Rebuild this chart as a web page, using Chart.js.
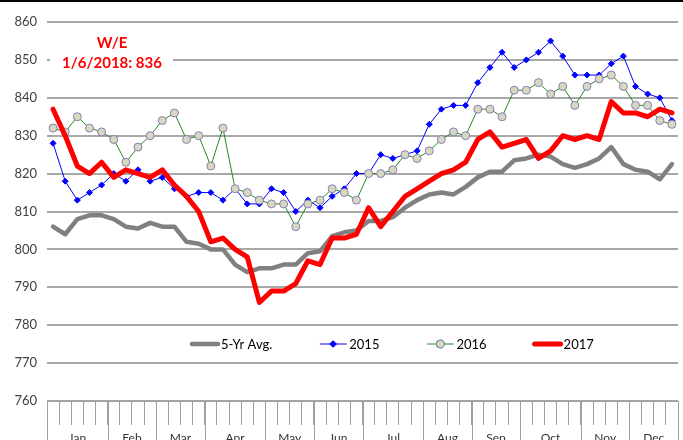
<!DOCTYPE html>
<html>
<head>
<meta charset="utf-8">
<script src="https://cdn.jsdelivr.net/npm/chart.js@4.4.1/dist/chart.umd.min.js"></script>
<style>
  html, body { margin: 0; padding: 0; background: #fff; }
  #wrap { position: relative; width: 683px; height: 440px; overflow: hidden; }
  #topbar { position: absolute; left: 0; top: 0; width: 683px; height: 2px; background: #000; }
</style>
</head>
<body>
<div id="wrap">
  <canvas id="chart" width="683" height="440"></canvas>
  <div id="topbar"></div>
</div>
<script>
// month labels and how many weekly points fall in each
const months = ['Jan', 'Feb', 'Mar', 'Apr', 'May', 'Jun', 'Jul', 'Aug', 'Sep', 'Oct', 'Nov', 'Dec'];
const weeksPerMonth = [5, 4, 4, 5, 4, 4, 5, 4, 4, 5, 4, 4];

// weekly series
const avg5yr = [806, 804, 808, 809, 809, 808, 806, 805.5, 807, 806,
                806, 802, 801.5, 800, 800, 796, 794, 795, 795, 796,
                796, 799, 799.5, 803.5, 804.5, 805, 807.5, 807.5, 808.5, 811,
                813, 814.5, 815, 814.5, 816.5, 819, 820.5, 820.5, 823.5, 824,
                825, 824.5, 822.5, 821.5, 822.5, 824, 827, 822.5, 821, 820.5,
                818.5, 822.5];
const y2015 = [828, 818, 813, 815, 817, 820, 818, 821, 818, 819,
               816, 814, 815, 815, 813, 816, 812, 812, 816, 815,
               810, 813, 811, 814, 816, 820, 820, 825, 824, 825,
               826, 833, 837, 838, 838, 844, 848, 852, 848, 850,
               852, 855, 851, 846, 846, 846, 849, 851, 843, 841,
               840, 834];
const y2016 = [832, 831, 835, 832, 831, 829, 823, 827, 830, 834,
               836, 829, 830, 822, 832, 816, 815, 813, 812, 812,
               806, 812, 813, 816, 815, 813, 820, 820, 821, 825,
               824, 826, 829, 831, 830, 837, 837, 835, 842, 842,
               844, 841, 843, 838, 843, 845, 846, 843, 838, 838,
               834, 833];
const y2017 = [837, 830, 822, 820, 823, 819, 821, 820, 819, 821,
               817, 814, 810, 802, 803, 800, 798, 786, 789, 789,
               791, 797, 796, 803, 803, 804, 811, 806, 810, 814,
               816, 818, 820, 821, 823, 829, 831, 827, 828, 829,
               824, 826, 830, 829, 830, 829, 839, 836, 836, 835,
               837, 836];

const yTicks = [760, 770, 780, 790, 800, 810, 820, 830, 840, 850, 860];
const noteLines = ['W/E', '1/6/2018: 836'];

// one category per week, e.g. "Jan-1"
const weekLabels = [];
months.forEach((m, i) => {
    for (let w = 1; w <= weeksPerMonth[i]; w++) weekLabels.push(m + '-' + w);
});

const FONT = 'Lato, "Open Sans", sans-serif';

// month boundary ticks + month names under the weekly ticks
const monthAxis = {
    id: 'monthAxis',
    afterDraw(chart) {
        const ctx = chart.ctx;
        const x = chart.scales.x;
        const top = chart.chartArea.bottom;
        ctx.save();
        ctx.strokeStyle = '#a0a0a0';
        ctx.lineWidth = 1;
        ctx.fillStyle = '#333';
        ctx.font = '12px ' + FONT;
        ctx.textAlign = 'center';
        ctx.textBaseline = 'middle';
        let start = 0;
        for (let m = 0; m <= months.length; m++) {
            const px = Math.round(x.getPixelForValue(start - 0.5)) + 0.5;
            ctx.beginPath();
            ctx.moveTo(px, top);
            ctx.lineTo(px, chart.height);
            ctx.stroke();
            if (m < months.length) {
                const end = start + weeksPerMonth[m];
                const cx = (x.getPixelForValue(start - 0.5) + x.getPixelForValue(end - 0.5)) / 2;
                ctx.fillText(months[m], cx, top + 37);
                start = end;
            }
        }
        ctx.restore();
    }
};

// red note in the top-left corner
const noteBox = {
    id: 'noteBox',
    beforeDatasetsDraw(chart) {
        const ctx = chart.ctx;
        const a = chart.chartArea;
        ctx.save();
        ctx.fillStyle = '#fff';
        ctx.fillRect(a.left + 3, a.top + 12, 123, 50);
        ctx.fillStyle = '#ff0000';
        ctx.font = 'bold 15px ' + FONT;
        ctx.textAlign = 'center';
        ctx.textBaseline = 'middle';
        ctx.fillText(noteLines[0], a.left + 65, a.top + 21);
        ctx.fillText(noteLines[1], a.left + 65, a.top + 41);
        ctx.restore();
    }
};

// legend inside the plot, line sample with marker
const innerLegend = {
    id: 'innerLegend',
    afterDatasetsDraw(chart) {
        const ctx = chart.ctx;
        const y = 344;
        let x = 192;
        ctx.save();
        ctx.font = '13px ' + FONT;
        ctx.textBaseline = 'middle';
        ctx.textAlign = 'left';
        chart.data.datasets.forEach(ds => {
            ctx.strokeStyle = ds.borderColor;
            ctx.lineWidth = ds.borderWidth;
            ctx.lineCap = 'round';
            ctx.beginPath();
            ctx.moveTo(x, y);
            ctx.lineTo(x + 26, y);
            ctx.stroke();
            if (ds.pointRadius > 0) {
                Chart.helpers.drawPoint(ctx, {
                    pointStyle: ds.pointStyle,
                    radius: ds.pointRadius,
                    borderWidth: ds.pointBorderWidth,
                    rotation: 0
                }, x + 13, y);
                ctx.fillStyle = ds.pointBackgroundColor;
                ctx.strokeStyle = ds.pointBorderColor;
                ctx.lineWidth = ds.pointBorderWidth;
                ctx.beginPath();
                if (ds.pointStyle === 'circle') {
                    ctx.arc(x + 13, y, ds.pointRadius, 0, Math.PI * 2);
                } else {
                    const r = ds.pointRadius;
                    ctx.moveTo(x + 13, y - r); ctx.lineTo(x + 13 + r, y);
                    ctx.lineTo(x + 13, y + r); ctx.lineTo(x + 13 - r, y);
                    ctx.closePath();
                }
                ctx.fill();
                ctx.stroke();
            }
            ctx.fillStyle = '#000';
            ctx.fillText(ds.label, x + 29, y + 1);
            x += 29 + ctx.measureText(ds.label).width + 48;
        });
        ctx.restore();
    }
};

const ctx = document.getElementById('chart').getContext('2d');
new Chart(ctx, {
    type: 'line',
    data: {
        labels: weekLabels,
        datasets: [
            {
                label: '5-Yr Avg.',
                data: avg5yr,
                borderColor: '#808080',
                borderWidth: 4.5,
                borderJoinStyle: 'round',
                borderCapStyle: 'round',
                pointRadius: 0,
                order: 4
            },
            {
                label: '2015',
                data: y2015,
                borderColor: '#0000ff',
                borderWidth: 1,
                pointStyle: 'rectRot',
                pointRadius: 3,
                pointBackgroundColor: '#0000ff',
                pointBorderColor: '#0000ff',
                pointBorderWidth: 1,
                order: 3
            },
            {
                label: '2016',
                data: y2016,
                borderColor: '#1e8c1e',
                borderWidth: 1,
                pointStyle: 'circle',
                pointRadius: 4,
                pointBackgroundColor: '#d6d9bf',
                pointBorderColor: '#8a7cb4',
                pointBorderWidth: 1,
                order: 2
            },
            {
                label: '2017',
                data: y2017,
                borderColor: '#ff0000',
                borderWidth: 5,
                borderJoinStyle: 'round',
                borderCapStyle: 'round',
                pointRadius: 0,
                order: 1
            }
        ]
    },
    options: {
        responsive: false,
        animation: false,
        events: [],
        layout: { padding: { top: 22, right: 3, bottom: 0, left: 0 } },
        plugins: {
            legend: { display: false },
            tooltip: { enabled: false }
        },
        elements: { line: { tension: 0 } },
        scales: {
            x: {
                type: 'category',
                offset: true,
                afterFit: s => { s.height = 39; },
                border: { display: true, color: '#a0a0a0', width: 1 },
                grid: {
                    offset: true,
                    drawOnChartArea: false,
                    drawTicks: true,
                    tickLength: 24,
                    color: '#a0a0a0',
                    lineWidth: 1
                },
                ticks: { display: false, autoSkip: false }
            },
            y: {
                min: 760,
                max: 860,
                afterFit: s => { s.width = 47; },
                afterBuildTicks: s => { s.ticks = yTicks.map(v => ({ value: v })); },
                border: { display: false },
                grid: { color: '#a8a8a8', lineWidth: 2, drawTicks: false },
                ticks: {
                    padding: 10,
                    color: '#404040',
                    font: { family: FONT, size: 13 }
                }
            }
        }
    },
    plugins: [monthAxis, noteBox, innerLegend]
});
</script>
</body>
</html>
